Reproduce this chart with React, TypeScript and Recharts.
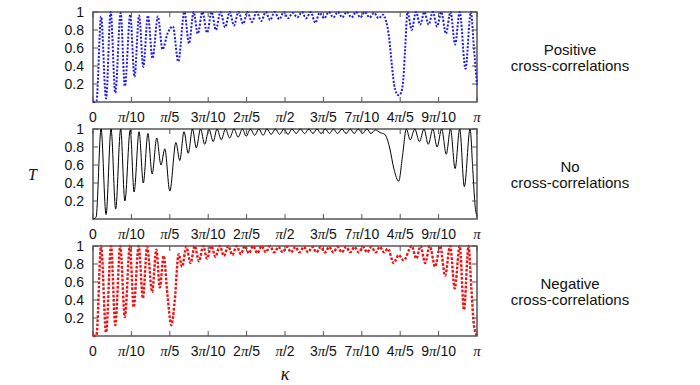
import React from "react";
import { LineChart, Line, XAxis, YAxis, ReferenceArea } from "recharts";

// kappa expressed in units of pi (0 .. 1)
const kappaTicks = [0, 0.1, 0.2, 0.3, 0.4, 0.5, 0.6, 0.7, 0.8, 0.9, 1];
const kappaLabels = ["0", "π/10", "π/5", "3π/10", "2π/5", "π/2", "3π/5", "7π/10", "4π/5", "9π/10", "π"];
const tTicks = [0.2, 0.4, 0.6, 0.8, 1];
const tLabels = ["0.2", "0.4", "0.6", "0.8", "1"];

const panelTitles = [
  ["Positive", "cross-correlations"],
  ["No", "cross-correlations"],
  ["Negative", "cross-correlations"],
];

// [kappa/pi, T]
const positiveCurve = [
  [0, 0], [0.009, 0.01], [0.021, 0.95], [0.034, 0.04], [0.046, 1.0], [0.058, 0.1], [0.072, 0.99],
  [0.083, 0.175], [0.097, 0.97], [0.108, 0.28], [0.12, 0.96], [0.131, 0.39], [0.143, 0.96],
  [0.155, 0.485], [0.169, 0.95], [0.181, 0.585], [0.194, 0.76], [0.208, 0.84], [0.222, 0.45],
  [0.238, 1.0], [0.25, 0.65], [0.262, 1.0], [0.273, 0.76], [0.285, 1.0], [0.297, 0.77],
  [0.309, 1.0], [0.32, 0.8], [0.332, 1.0], [0.344, 0.83], [0.356, 1.0], [0.367, 0.85],
  [0.379, 1.0], [0.391, 0.87], [0.402, 1.0], [0.414, 0.89], [0.426, 1.0], [0.438, 0.9],
  [0.45, 1.0], [0.461, 0.91], [0.473, 1.0], [0.485, 0.92], [0.497, 1.0], [0.508, 0.93],
  [0.52, 0.99], [0.532, 0.94], [0.544, 1.0], [0.555, 0.93], [0.567, 1.0], [0.579, 0.88],
  [0.59, 0.99], [0.602, 0.93], [0.614, 1.0], [0.626, 0.94], [0.638, 1.0], [0.649, 0.94],
  [0.661, 1.0], [0.673, 0.94], [0.685, 1.0], [0.696, 0.94], [0.708, 1.0], [0.72, 0.94],
  [0.732, 0.99], [0.744, 0.93], [0.755, 0.97], [0.763, 0.9], [0.771, 0.72], [0.778, 0.42],
  [0.784, 0.2], [0.79, 0.1], [0.796, 0.075], [0.802, 0.1], [0.808, 0.25], [0.813, 0.6],
  [0.819, 1.0], [0.83, 0.8], [0.841, 1.0], [0.852, 0.86], [0.863, 1.0], [0.874, 0.86],
  [0.885, 1.0], [0.896, 0.84], [0.907, 1.0], [0.919, 0.76], [0.931, 1.0], [0.943, 0.64],
  [0.955, 1.0], [0.97, 0.37], [0.984, 1.0], [0.992, 0.6], [1.0, 0.19],
];

const noneCurve = [
  [0, 0], [0.008, 0.02], [0.021, 1.0], [0.034, 0.05], [0.047, 1.0], [0.059, 0.11], [0.072, 1.0],
  [0.083, 0.2], [0.097, 0.99], [0.107, 0.3], [0.12, 0.97], [0.131, 0.4], [0.143, 0.95],
  [0.154, 0.5], [0.166, 0.9], [0.177, 0.6], [0.187, 0.78], [0.2, 0.31], [0.216, 0.85],
  [0.226, 0.65], [0.237, 0.97], [0.248, 0.73], [0.259, 1.0], [0.269, 0.79], [0.28, 1.0],
  [0.291, 0.83], [0.302, 1.0], [0.313, 0.86], [0.323, 1.0], [0.334, 0.88], [0.345, 1.0],
  [0.356, 0.9], [0.367, 1.0], [0.378, 0.91], [0.389, 1.0], [0.399, 0.92], [0.41, 1.0],
  [0.421, 0.93], [0.432, 1.0], [0.443, 0.93], [0.453, 1.0], [0.464, 0.94], [0.475, 1.0],
  [0.486, 0.94], [0.497, 1.0], [0.508, 0.94], [0.518, 1.0], [0.529, 0.95], [0.54, 1.0],
  [0.551, 0.95], [0.562, 1.0], [0.573, 0.95], [0.583, 1.0], [0.594, 0.95], [0.605, 1.0],
  [0.616, 0.95], [0.626, 1.0], [0.637, 0.95], [0.648, 1.0], [0.659, 0.95], [0.67, 1.0],
  [0.68, 0.95], [0.691, 1.0], [0.702, 0.95], [0.713, 1.0], [0.724, 0.95], [0.735, 0.99],
  [0.748, 0.96], [0.76, 0.94], [0.772, 0.8], [0.784, 0.55], [0.796, 0.42], [0.806, 0.7],
  [0.816, 1.0], [0.826, 0.88], [0.838, 1.0], [0.85, 0.86], [0.862, 1.0], [0.873, 0.83],
  [0.885, 1.0], [0.896, 0.8], [0.908, 1.0], [0.92, 0.72], [0.931, 1.0], [0.943, 0.56],
  [0.955, 1.0], [0.967, 0.36], [0.982, 1.0], [0.989, 0.55], [0.995, 0.15], [1.0, 0.03],
];

const negativeCurve = [
  [0, 0], [0.009, 0.01], [0.021, 1.0], [0.034, 0.04], [0.047, 1.0], [0.058, 0.12], [0.071, 1.0],
  [0.083, 0.21], [0.096, 1.0], [0.106, 0.32], [0.119, 1.0], [0.13, 0.42], [0.141, 0.99],
  [0.154, 0.49], [0.165, 0.96], [0.174, 0.54], [0.184, 0.89], [0.194, 0.45], [0.204, 0.12],
  [0.213, 0.4], [0.223, 0.91], [0.232, 0.77], [0.243, 0.99], [0.254, 0.81], [0.265, 1.0],
  [0.276, 0.83], [0.287, 1.0], [0.297, 0.86], [0.308, 1.0], [0.319, 0.88], [0.33, 1.0],
  [0.341, 0.89], [0.352, 1.0], [0.363, 0.9], [0.374, 1.0], [0.385, 0.91], [0.395, 1.0],
  [0.406, 0.92], [0.417, 1.0], [0.428, 0.92], [0.439, 1.0], [0.45, 0.93], [0.461, 1.0],
  [0.472, 0.93], [0.483, 0.99], [0.494, 0.93], [0.505, 0.99], [0.516, 0.93], [0.527, 0.99],
  [0.538, 0.93], [0.549, 0.99], [0.56, 0.93], [0.571, 0.99], [0.582, 0.93], [0.593, 0.99],
  [0.604, 0.93], [0.615, 0.99], [0.626, 0.93], [0.637, 0.99], [0.648, 0.93], [0.659, 0.99],
  [0.67, 0.93], [0.681, 0.99], [0.692, 0.93], [0.703, 0.99], [0.714, 0.93], [0.725, 0.99],
  [0.736, 0.93], [0.747, 0.99], [0.758, 0.93], [0.768, 0.97], [0.783, 0.81], [0.796, 0.9],
  [0.809, 0.84], [0.83, 1.0], [0.842, 0.86], [0.853, 1.0], [0.865, 0.81], [0.877, 1.0],
  [0.891, 0.77], [0.904, 1.0], [0.917, 0.67], [0.93, 1.0], [0.942, 0.53], [0.955, 1.0],
  [0.966, 0.29], [0.978, 1.0], [0.985, 0.55], [0.992, 0.12], [1.0, 0.0],
];

const PLOT_W = 384;
const PLOT_H = 90;
const BORDER = "#555";
const SANS = "'Liberation Sans', Arial, Helvetica, sans-serif";
const SERIF = "'Liberation Serif', 'Times New Roman', serif";

function piLabel(label: string) {
  const parts = label.split("π");
  const out: any[] = [];
  parts.forEach((p, i) => {
    if (p) out.push(p);
    if (i < parts.length - 1)
      out.push(
        <tspan key={"pi" + i} fontStyle="italic" fontFamily={SERIF} fontSize={15}>
          π
        </tspan>
      );
  });
  return out;
}

const XTick = (props: any) => {
  const { x, y, index } = props;
  const label = kappaLabels[index] ?? "";
  return (
    <g>
      <line x1={x} x2={x} y1={y} y2={y - 5} stroke={BORDER} strokeWidth={1} />
      <line x1={x} x2={x} y1={y - PLOT_H} y2={y - PLOT_H + 5} stroke={BORDER} strokeWidth={1} />
      <text x={x} y={y + 20} textAnchor="middle" fontSize={14} fontFamily={SANS} fill="#111">
        {piLabel(label)}
      </text>
    </g>
  );
};

const YTick = (props: any) => {
  const { x, y, index } = props;
  const label = tLabels[index] ?? "";
  return (
    <g>
      <line x1={x} x2={x + 5} y1={y} y2={y} stroke={BORDER} strokeWidth={1} />
      <line x1={x + PLOT_W} x2={x + PLOT_W - 5} y1={y} y2={y} stroke={BORDER} strokeWidth={1} />
      <text x={x - 9} y={y + 5} textAnchor="end" fontSize={14} fontFamily={SANS} fill="#111">
        {label}
      </text>
    </g>
  );
};

function Panel(props: { curve: number[][]; color: string; width: number; dash?: string; top: number }) {
  const data = props.curve.map(([k, t]) => ({ k, t }));
  return (
    <div style={{ position: "absolute", left: 0, top: props.top, width: 700, height: 130 }}>
      <LineChart width={700} height={130} data={data} margin={{ top: 12, right: 223, bottom: 0, left: 0 }}>
        <XAxis
          dataKey="k"
          type="number"
          domain={[0, 1]}
          ticks={kappaTicks}
          interval={0}
          height={28}
          tickLine={false}
          axisLine={false}
          tickSize={0}
          tickMargin={0}
          tick={<XTick />}
        />
        <YAxis
          type="number"
          domain={[0, 1]}
          ticks={tTicks}
          interval={0}
          width={93}
          tickLine={false}
          axisLine={false}
          tickSize={0}
          tickMargin={0}
          tick={<YTick />}
        />
        <ReferenceArea x1={0} x2={1} y1={0} y2={1} fill="none" fillOpacity={0} stroke={BORDER} strokeWidth={1.5} />
        <Line
          type="monotone"
          dataKey="t"
          stroke={props.color}
          strokeWidth={props.width}
          strokeDasharray={props.dash}
          dot={false}
          activeDot={false}
          isAnimationActive={false}
        />
      </LineChart>
    </div>
  );
}

export default function App() {
  const curves = [
    { curve: positiveCurve, color: "#1c1cf0", width: 2, dash: "2 1.6" },
    { curve: noneCurve, color: "#000000", width: 1 },
    { curve: negativeCurve, color: "#f01212", width: 2.4, dash: "2.6 1.6" },
  ];
  return (
    <div style={{ position: "absolute", left: 0, top: 0, width: 700, height: 385, background: "#fff" }}>
      {curves.map((c, i) => (
        <Panel key={i} curve={c.curve} color={c.color} width={c.width} dash={c.dash} top={i * 117} />
      ))}
      <svg width={700} height={385} style={{ position: "absolute", left: 0, top: 0, pointerEvents: "none" }}>
        <text x={32.5} y={180} textAnchor="middle" fontSize={16} fontStyle="italic" fontFamily={SERIF} fill="#111">
          T
        </text>
        <text x={285} y={380} textAnchor="middle" fontSize={18} fontStyle="italic" fontFamily={SERIF} fill="#111">
          κ
        </text>
        {panelTitles.map((lines, i) => (
          <g key={i}>
            <text x={570} y={55 + i * 117} textAnchor="middle" fontSize={15} fontFamily={SANS} fill="#111">
              {lines[0]}
            </text>
            <text x={570} y={71 + i * 117} textAnchor="middle" fontSize={15} fontFamily={SANS} fill="#111">
              {lines[1]}
            </text>
          </g>
        ))}
      </svg>
    </div>
  );
}
